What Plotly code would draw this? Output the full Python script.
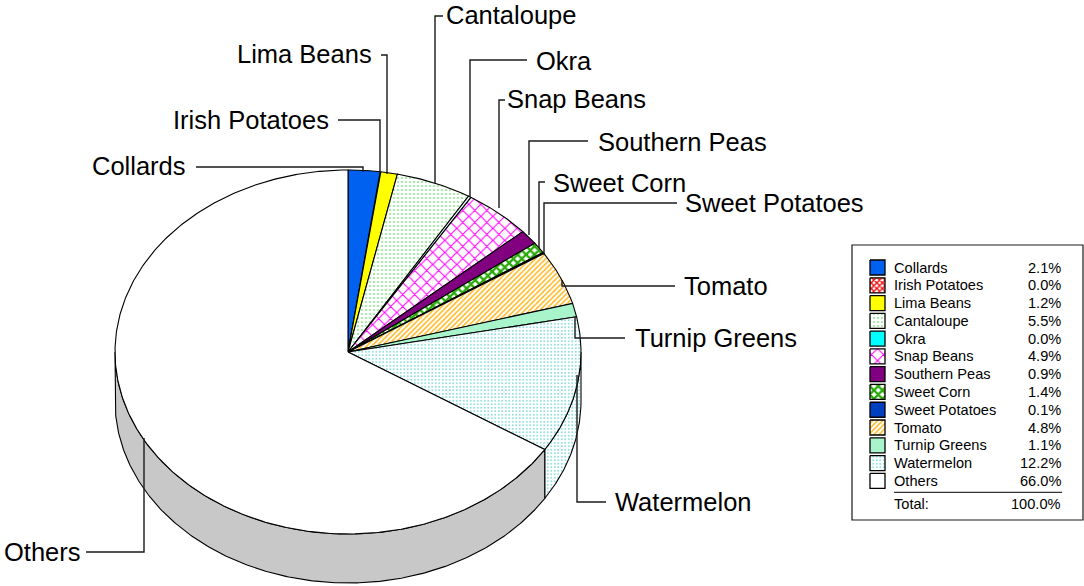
import numpy as np
import plotly.graph_objects as go

# ---- data ----
names = ["Collards", "Irish Potatoes", "Lima Beans", "Cantaloupe", "Okra", "Snap Beans",
         "Southern Peas", "Sweet Corn", "Sweet Potatoes", "Tomato", "Turnip Greens",
         "Watermelon", "Others"]
slice_shares = [2.2, 0.05, 1.15, 5.25, 0.2, 4.65, 1.3, 1.0, 0.1, 4.8, 1.2, 12.1, 66.0]
legend_values = ["2.1%", "0.0%", "1.2%", "5.5%", "0.0%", "4.9%", "0.9%", "1.4%", "0.1%",
                 "4.8%", "1.1%", "12.2%", "66.0%"]
total_label = "100.0%"

# ---- styles ----
FONT = "Liberation Sans, Arial, sans-serif"
INK = "#1a1a1a"
styles = [
    dict(bg="#0060f0"),
    dict(bg="#ffffff", fg="#f01010", shape="x", size=4, sol=0.6),
    dict(bg="#ffff00"),
    dict(bg="#ffffff", fg="#90ec90", shape=".", size=4, sol=0.22),
    dict(bg="#e8ffff"),
    dict(bg="#ffffff", fg="#ff00ff", shape="x", size=8.5, sol=0.24),
    dict(bg="#800080"),
    dict(bg="#ffffff", fg="#28a808", shape="x", size=6, sol=0.62),
    dict(bg="#0040c0"),
    dict(bg="#ffffff", fg="#ffb820", shape="/", size=3.6, sol=0.42),
    dict(bg="#a8f5cc"),
    dict(bg="#ffffff", fg="#70d8d8", shape=".", size=3.5, sol=0.2),
    dict(bg="#ffffff"),
]
WALL_GREY = "#c8c8c8"

# ---- layout of the drawing, in page pixels ----
CX, CY, RX, RY, DEPTH = 348, 352, 233, 182, 49

label_places = {
    "Collards": (187, 166, "right"), "Irish Potatoes": (330, 120, "right"),
    "Lima Beans": (373, 54, "right"), "Cantaloupe": (445, 15, "left"),
    "Okra": (535, 61, "left"), "Snap Beans": (506, 99, "left"),
    "Southern Peas": (597, 142, "left"), "Sweet Corn": (552, 183, "left"),
    "Sweet Potatoes": (684, 203, "left"), "Tomato": (683, 286, "left"),
    "Turnip Greens": (634, 338, "left"), "Watermelon": (614, 502, "left"),
    "Others": (3, 552, "left"),
}
leader_paths = {
    "Collards": [(196, 167), (363, 167), (363, 172)],
    "Irish Potatoes": [(338, 120), (380, 120), (380, 173)],
    "Lima Beans": [(381, 55), (387, 55), (387, 174)],
    "Cantaloupe": [(443, 16), (435, 16), (435, 183)],
    "Okra": [(527, 60), (470, 60), (470, 197)],
    "Snap Beans": [(505, 100), (499, 100), (499, 208)],
    "Southern Peas": [(588, 141), (529, 141), (529, 235)],
    "Sweet Corn": [(545, 182), (539, 182), (539, 248)],
    "Sweet Potatoes": [(677, 203), (544, 203), (544, 255)],
    "Tomato": [(675, 286), (562, 286), (562, 280)],
    "Turnip Greens": [(625, 338), (575, 338), (575, 317)],
    "Watermelon": [(606, 502), (577, 502), (577, 375)],
    "Others": [(86, 552), (144, 552), (144, 438)],
}

LEG_X0, LEG_Y0, LEG_X1, LEG_Y1 = 852, 245, 1083, 520
SW_X0, SW_SIZE, ROW_Y0, ROW_STEP = 870, 15, 267.5, 17.78
TXT_X, VAL_X = 893, 1062
RULE_Y, TOTAL_Y = 492.3, 504
LEG_SIZE = 14.6


def arc(a0, a1, dy=0.0):
    t = np.radians(np.linspace(a0, a1, max(2, int(abs(a1 - a0) * 2) + 2)))
    return CX + RX * np.sin(t), CY - RY * np.cos(t) + dy


def poly(x, y, st, width=1.1):
    kw = {}
    if "fg" in st:
        kw["fillpattern"] = dict(shape=st["shape"], fgcolor=st["fg"], bgcolor=st["bg"],
                                 size=st["size"], solidity=st["sol"], fgopacity=1,
                                 fillmode="replace")
    return go.Scatter(x=list(x), y=list(y), mode="lines", fill="toself", fillcolor=st["bg"],
                      line=dict(color="#000000", width=width), hoverinfo="skip",
                      showlegend=False, **kw)


fig = go.Figure()

# angular extents follow from the shares
edges = np.concatenate([[0.0], np.cumsum(slice_shares)]) * 360.0 / sum(slice_shares)

# side wall: visible only for the lower half of the ellipse
for i, name in enumerate(names):
    a0, a1 = max(edges[i], 90.0), min(edges[i + 1], 270.0)
    if a1 <= a0:
        continue
    tx, ty = arc(a0, a1)
    bx, by = arc(a1, a0, DEPTH)
    st = styles[i] if name != "Others" else dict(bg=WALL_GREY)
    fig.add_trace(poly(np.r_[tx, bx, tx[0]], np.r_[ty, by, ty[0]], st))

# top face
for i, name in enumerate(names):
    ax, ay = arc(edges[i], edges[i + 1])
    fig.add_trace(poly(np.r_[CX, ax, CX], np.r_[CY, ay, CY], styles[i]))

# leaders
for name in names:
    pts = leader_paths[name]
    fig.add_trace(go.Scatter(x=[p[0] for p in pts], y=[p[1] for p in pts], mode="lines",
                             line=dict(color=INK, width=1.4), hoverinfo="skip", showlegend=False))

# legend swatches
for i, name in enumerate(names):
    yc = ROW_Y0 + i * ROW_STEP
    s = SW_SIZE
    x = [SW_X0, SW_X0 + s, SW_X0 + s, SW_X0, SW_X0]
    y = [yc - s / 2, yc - s / 2, yc + s / 2, yc + s / 2, yc - s / 2]
    st = dict(styles[i])
    if name == "Okra":
        st["bg"] = "#00ffff"
    fig.add_trace(poly(x, y, st, width=1.3))

annotations = []
for name in names:
    lx, ly, side = label_places[name]
    annotations.append(dict(x=lx, y=ly, text=name, xanchor=side, yanchor="middle", showarrow=False,
                            borderpad=0, font=dict(family=FONT, size=25.5, color="#000000")))
for i, name in enumerate(names):
    yc = ROW_Y0 + i * ROW_STEP
    annotations.append(dict(x=TXT_X, y=yc, text=name, xanchor="left", yanchor="middle", showarrow=False,
                            borderpad=0, font=dict(family=FONT, size=LEG_SIZE, color="#000000")))
    annotations.append(dict(x=VAL_X, y=yc, text=legend_values[i], xanchor="right", yanchor="middle",
                            showarrow=False, borderpad=0, font=dict(family=FONT, size=LEG_SIZE, color="#000000")))
annotations.append(dict(x=TXT_X, y=TOTAL_Y, text="Total:", xanchor="left", yanchor="middle", showarrow=False,
                        borderpad=0, font=dict(family=FONT, size=LEG_SIZE, color="#000000")))
annotations.append(dict(x=VAL_X, y=TOTAL_Y, text=total_label, xanchor="right", yanchor="middle", showarrow=False,
                        borderpad=0, font=dict(family=FONT, size=LEG_SIZE, color="#000000")))

shapes = [
    dict(type="rect", x0=LEG_X0, y0=LEG_Y0, x1=LEG_X1, y1=LEG_Y1, layer="below",
         line=dict(color=INK, width=1.2), fillcolor="#ffffff"),
    dict(type="line", x0=TXT_X + 1, x1=VAL_X, y0=RULE_Y, y1=RULE_Y, line=dict(color="#000000", width=1)),
]

fig.update_layout(
    width=1084, height=586, margin=dict(l=0, r=0, t=0, b=0),
    paper_bgcolor="#ffffff", plot_bgcolor="#ffffff", showlegend=False,
    xaxis=dict(range=[0, 1084], visible=False, fixedrange=True),
    yaxis=dict(range=[586, 0], visible=False, fixedrange=True),
    annotations=annotations, shapes=shapes,
)
fig.write_html("out.html", config=dict(displayModeBar=False),
               post_script="document.body.style.margin='0';")
